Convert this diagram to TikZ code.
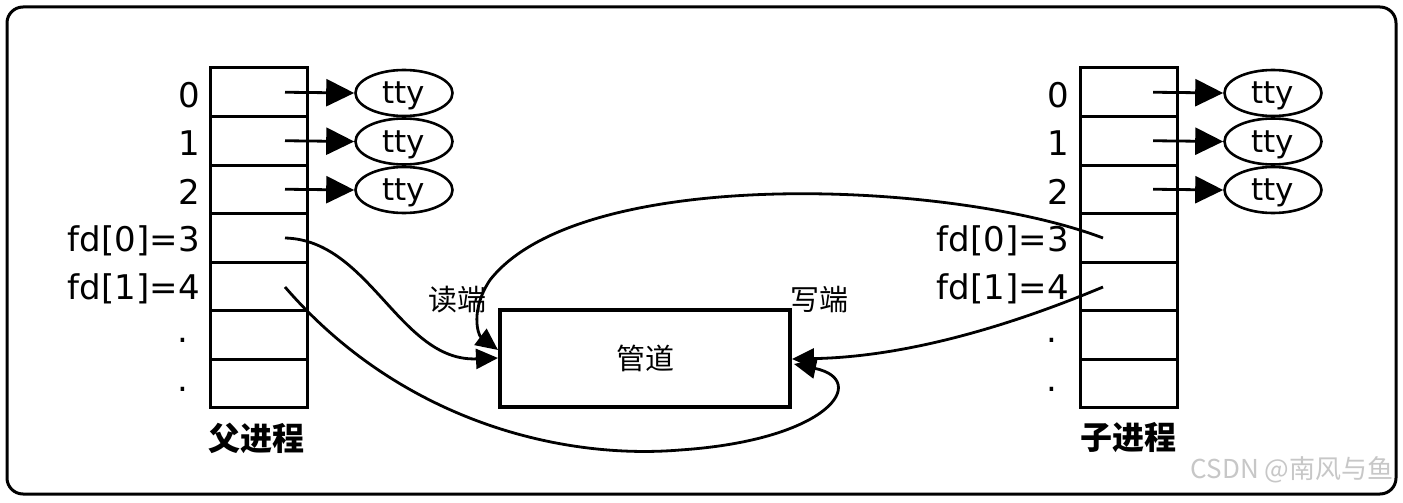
\documentclass[tikz,border=0pt]{standalone}
\usepackage{fontspec}
\setmainfont{DejaVu Sans}
\newfontfamily\cjk{Noto Sans CJK SC}
\usetikzlibrary{arrows.meta,shapes.geometric,calc}
\begin{document}
\begin{tikzpicture}[x=1pt,y=-1pt,
  cell/.style={draw,line width=3pt,minimum width=97pt,minimum height=48.5pt,inner sep=0pt,outer sep=0pt},
  lab/.style={anchor=east,font=\fontsize{34}{34}\selectfont,inner sep=0pt},
  dot/.style={font=\fontsize{34}{34}\selectfont,inner sep=0pt},
  tty/.style={draw,ellipse,line width=2.6pt,minimum width=97pt,minimum height=46pt,inner sep=0pt,text height=26pt,text depth=5pt,font=\fontsize{31}{31}\selectfont},
  big/.style={-{Triangle[length=28pt,width=27pt]},line width=2.8pt},
  crv/.style={-{Triangle[length=22pt,width=20pt]},line width=2.8pt},
  cjklab/.style={font=\cjk\fontsize{29}{29}\selectfont,inner sep=0pt},
  title/.style={font=\cjk\bfseries\fontsize{32}{32}\selectfont,inner sep=0pt}]
\useasboundingbox (0,0) rectangle (1403,503);
\fill[white] (0,0) rectangle (1403,503);
\draw[line width=3pt,rounded corners=16pt] (7,7) rectangle (1396,494);

% tables
\foreach \i in {0,...,6}{
  \node[cell] (p\i) at (258.5,{92.25+48.5*\i}) {};
  \coordinate (ps\i) at (285,{92.25+48.5*\i});
  \node[cell] (c\i) at (1128.5,{92.25+48.5*\i}) {};
  \coordinate (cs\i) at (1153,{92.25+48.5*\i});
}
\foreach \i/\t in {0/0,1/1,2/2,3/{fd[0]=3},4/{fd[1]=4}}{
  \node[lab] (pl\i) at (200,{95+48.5*\i}) {\t};
  \node[lab] (cl\i) at (1069,{95+48.5*\i}) {\t};
}
\node[dot] (pd5) at (183,{334+6}) {.};
\node[dot] (pd6) at (183,{383+6}) {.};
\node[dot] (cd5) at (1052,{334+6}) {.};
\node[dot] (cd6) at (1052,{383+6}) {.};
\foreach \i in {0,1,2}{
  \node[tty] (pt\i) at (404,{93+48.5*\i}) {tty};
  \node[tty] (ct\i) at (1273,{93+48.5*\i}) {tty};
  \draw[big] (ps\i) -- (pt\i.west);
  \draw[big] (cs\i) -- (ct\i.west);
}

% pipe
\node[draw,line width=3.5pt,minimum width=290pt,minimum height=97pt,inner sep=0pt,font=\cjk\fontsize{29}{29}\selectfont] (pipe) at (645,358.5) {管道};
\node[cjklab] (rd) at (457,300) {读端};
\node[cjklab] (wr) at (819,300) {写端};

\coordinate (pin1) at (498,358);
\coordinate (pin2) at (498,350);
\coordinate (pout1) at (792,359);
\coordinate (pout2) at (794,364);
\coordinate (pf0) at (285,238);
\coordinate (pf1) at (285,287);
\coordinate (cf0) at (1103,238);
\coordinate (cf1) at (1103,287);

\draw[crv] (pf0) .. controls (370,240) and (400,362) .. (pin1);
\draw[crv] (cf0) .. controls (950,180) and (580,165) .. (490,280) .. controls (470,310) and (478,335) .. (pin2);
\draw[crv] (cf1) .. controls (1000,330) and (900,357) .. (pout1);
\draw[crv] (pf1) .. controls (400,420) and (560,460) .. (680,450) .. controls (830,440) and (870,380) .. (pout2);

\node[title] (pt) at (256,438) {父进程};
\node[title] (ctl) at (1128,438) {子进程};
\node[font=\fontsize{26}{26}\selectfont\cjk,text=black!22,inner sep=0pt] (wm) at (1292,470) {CSDN @南风与鱼};
\end{tikzpicture}
\end{document}
